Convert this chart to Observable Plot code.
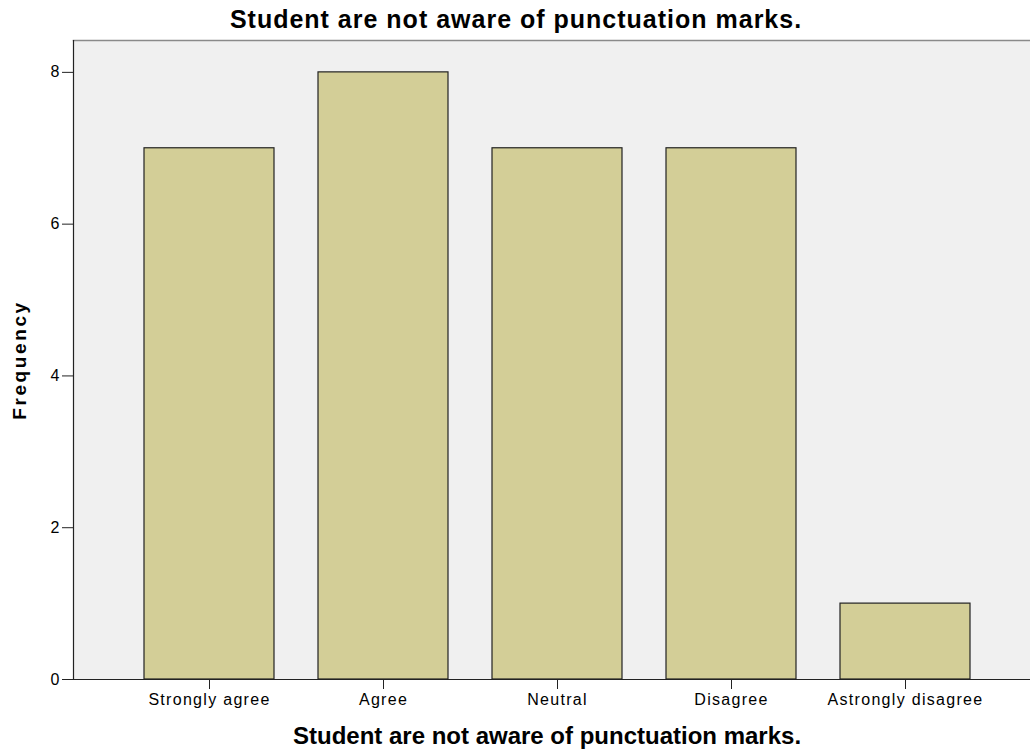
<!DOCTYPE html>
<html>
<head>
<meta charset="utf-8">
<script src="https://cdn.jsdelivr.net/npm/d3@7"></script>
<script src="https://cdn.jsdelivr.net/npm/@observablehq/plot@0.6"></script>
<style>
  html, body { margin: 0; padding: 0; background: #fff; }
  #chart svg { display: block; }
  g[aria-label="x-axis tick label"] text { letter-spacing: 1.3px; }
  text.main-title { letter-spacing: 1px; }
  text.x-title { letter-spacing: 0px; }
  text.y-title { letter-spacing: 2.6px; }
</style>
</head>
<body>
<div id="chart"></div>
<script>
const chartTitle = "Student are not aware of punctuation marks.";
const xTitle = "Student are not aware of punctuation marks.";
const yTitle = "Frequency";
const categories = ["Strongly agree", "Agree", "Neutral", "Disagree", "Astrongly disagree"];
const frequencies = [7, 8, 7, 7, 1];
const yTicks = [0, 2, 4, 6, 8];
const yMax = 8.42;

const data = categories.map((c, i) => ({category: c, frequency: frequencies[i]}));

const chart = Plot.plot({
  width: 1030,
  height: 751,
  marginTop: 40,
  marginBottom: 72,
  marginLeft: 73,
  marginRight: 0,
  style: {fontFamily: "'Liberation Sans', Arial, sans-serif", fontSize: "16px", color: "#000", background: "#fff", overflow: "visible"},
  x: {domain: categories, range: [73, 1041], paddingInner: 0.253, paddingOuter: 0.408},
  y: {domain: [0, yMax]},
  marks: [
    Plot.frame({fill: "#f0f0f0", stroke: null}),
    Plot.frame({anchor: "top", stroke: "#8a8a8a", strokeWidth: 1.5}),
    Plot.barY(data, {x: "category", y: "frequency", fill: "#d3ce97", stroke: "#222", strokeWidth: 1.2}),
    Plot.axisX({tickSize: 10, tickPadding: 4, label: null, fontSize: 16, stroke: "#222"}),
    Plot.axisY({ticks: yTicks, tickSize: 11, tickPadding: 3, label: null, fontSize: 16, tickFormat: d3.format("d"), stroke: "#222"}),
    Plot.ruleY([0], {stroke: "#222", strokeWidth: 1.2}),
    Plot.frame({anchor: "left", stroke: "#222", strokeWidth: 1.2}),
    Plot.text([chartTitle], {text: d => d, frameAnchor: "top", dx: -36, dy: -21, lineAnchor: "middle", fontSize: 25, fontWeight: "bold"}),
    Plot.text([xTitle], {text: d => d, frameAnchor: "bottom", dx: -5, dy: 57, lineAnchor: "middle", fontSize: 24, fontWeight: "bold"}),
    Plot.text([yTitle], {text: d => d, frameAnchor: "left", textAnchor: "middle", dx: -54, rotate: -90, lineAnchor: "middle", fontSize: 19, fontWeight: "bold"})
  ]
});
chart.querySelectorAll("text").forEach(t => {
  const s = t.textContent;
  if (s === chartTitle && !t.classList.contains("x-title") && !chart.querySelector("text.main-title")) t.classList.add("main-title");
  else if (s === xTitle) t.classList.add("x-title");
  if (s === yTitle) t.classList.add("y-title");
});
document.getElementById("chart").appendChild(chart);
</script>
</body>
</html>
